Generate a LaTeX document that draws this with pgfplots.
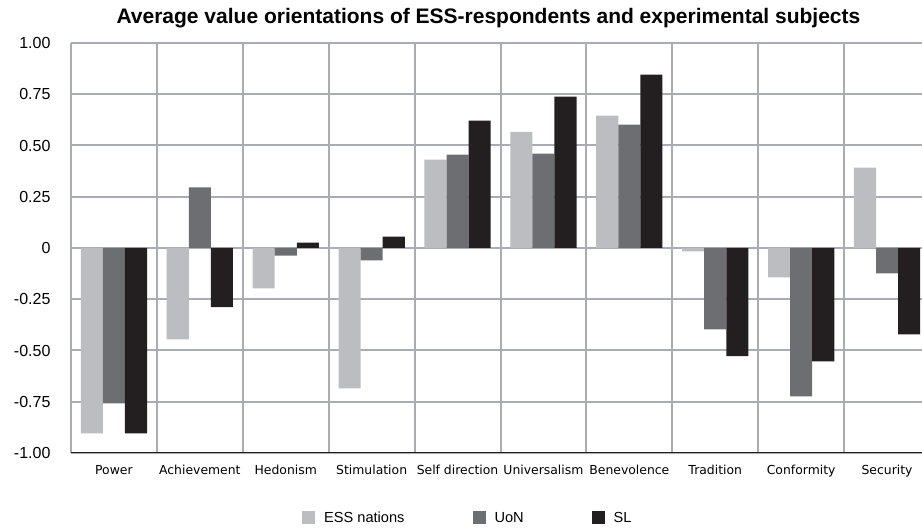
\documentclass[border=0pt]{standalone}
\usepackage{fontspec}
\setmainfont{Liberation Sans}
\newfontfamily\dejavu{DejaVu Sans}
\usepackage{pgfplots}
\pgfplotsset{compat=1.18}
\definecolor{ess}{HTML}{BCBDC0}
\definecolor{uon}{HTML}{6D6E71}
\definecolor{sl}{HTML}{231F20}
\definecolor{gridc}{HTML}{A9ADB3}
\begin{document}
\begin{tikzpicture}
\useasboundingbox (0,0) rectangle (922pt,530pt);
\begin{axis}[
  at={(71pt,77pt)}, anchor=south west,
  width=859pt, height=410pt, scale only axis,
  xmin=-0.5, xmax=9.5, ymin=-1, ymax=1,
  ybar=0pt, bar width=0.257,
  axis line style={draw=none},
  major tick length=0pt, minor tick length=0pt,
  xtick={0,...,9},
  xticklabels={Power,Achievement,Hedonism,Stimulation,Self direction,Universalism,Benevolence,Tradition,Conformity,Security},
  xticklabel style={font=\dejavu\fontsize{12.4}{14}\selectfont, yshift=-9pt},
  minor xtick={-0.5,0.5,1.5,2.5,3.5,4.5,5.5,6.5,7.5,8.5,9.5},
  xminorgrids=true,
  ytick={-1,-0.75,-0.5,-0.25,0,0.25,0.5,0.75,1},
  yticklabels={-1.00,-0.75,-0.50,-0.25,0,0.25,0.50,0.75,1.00},
  yticklabel style={font=\fontsize{16}{18}\selectfont, xshift=-17pt},
  ymajorgrids=true,
  grid style={draw=gridc, line width=2pt},
  minor grid style={draw=gridc, line width=2pt},
  /pgf/number format/assume math mode=true,
  title={\bfseries Average value orientations of ESS-respondents and experimental subjects},
  title style={font=\fontsize{21}{24}\selectfont, at={(0.486,1)}, anchor=center, yshift=19pt},
  legend columns=3,
  legend style={draw=none, fill=none, at={(0.462,-0.1585)}, anchor=center,
    font=\fontsize{14.6}{17}\selectfont,
    /tikz/every odd column/.append style={column sep=7pt},
    /tikz/every even column/.append style={column sep=66pt}},
  legend image code/.code={\fill[#1] (0pt,-6.5pt) rectangle (13pt,6.5pt);},
]
\addplot[fill=ess, draw=none] coordinates {(0,-0.904) (1,-0.446) (2,-0.197) (3,-0.685) (4,0.431) (5,0.567) (6,0.646) (7,-0.016) (8,-0.143) (9,0.392)};
\addplot[fill=uon, draw=none] coordinates {(0,-0.758) (1,0.296) (2,-0.037) (3,-0.060) (4,0.455) (5,0.460) (6,0.602) (7,-0.397) (8,-0.724) (9,-0.124)};
\addplot[fill=sl, draw=none] coordinates {(0,-0.904) (1,-0.289) (2,0.026) (3,0.055) (4,0.621) (5,0.738) (6,0.846) (7,-0.528) (8,-0.553) (9,-0.421)};
\legend{ESS nations,UoN,SL}
\draw[sl, line width=2pt] (rel axis cs:0,0) -- (rel axis cs:1,0);
\end{axis}
\end{tikzpicture}
\end{document}
